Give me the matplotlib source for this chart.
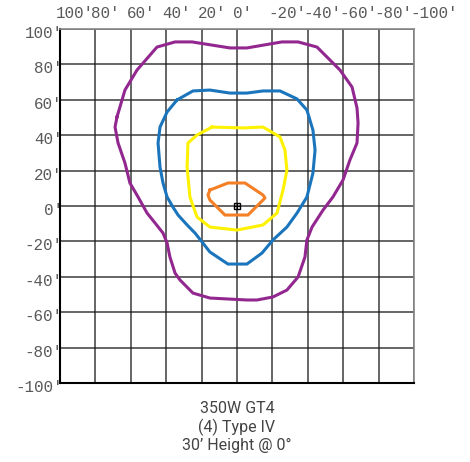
import matplotlib
matplotlib.use('Agg')
import matplotlib.pyplot as plt
import matplotlib.transforms as mtransforms

# Isofootcandle contours (feet), x positive to the left
purple_x = [67.8, 63.3, 56.5, 45.2, 35.0, 25.4, 4.0, -5.6, -25.4, -34.5, -45.2, -58.2, -65.0, -67.8,
            -68.4, -67.8, -63.8, -59.9, -54.2, -48.6, -42.4, -39.5, -38.4, -34.5, -28.2, -20.3, -11.3,
            -5.6, 15.3, 24.9, 32.2, 35.0, 37.9, 39.5, 41.8, 46.3, 50.8, 55.9, 60.5, 63.3, 67.2, 68.9]
purple_y = [50.3, 65.5, 76.8, 89.8, 92.7, 92.7, 89.3, 89.3, 92.7, 92.7, 89.8, 76.8, 67.2, 55.4,
            46.9, 35.6, 26.0, 14.7, 5.1, -2.3, -11.9, -19.2, -28.8, -40.1, -47.5, -51.4, -53.1,
            -53.1, -52.0, -49.2, -41.8, -37.9, -28.8, -20.9, -15.3, -9.6, -4.0, 5.1, 13.0, 24.3, 35.6, 44.6]

blue_x = [33.9, 24.9, 15.3, 4.0, -5.6, -14.7, -24.3, -33.9, -39.5, -42.9, -44.1, -42.9, -39.5, -33.9,
          -28.2, -20.3, -14.1, -5.6, 5.1, 15.3, 23.7, 28.2, 33.3, 36.2, 39.5, 41.8, 43.5, 44.6, 43.5, 39.5]
blue_y = [59.9, 65.0, 65.5, 63.8, 63.8, 65.0, 65.0, 60.5, 54.2, 42.9, 31.6, 18.6, 5.1, -4.0,
          -11.9, -19.2, -26.6, -32.8, -32.8, -26.0, -15.3, -10.7, -5.1, -0.6, 5.1, 13.0, 22.0, 35.6, 44.6, 53.1]

yellow_x = [14.1, -3.4, -14.7, -24.3, -27.1, -28.2, -26.0, -22.6, -14.7, 0.0, 15.3, 22.6, 26.6, 28.2, 27.7, 22.6]
yellow_y = [44.6, 44.1, 44.6, 39.0, 31.6, 20.3, 9.0, -4.0, -10.7, -13.6, -11.9, -6.2, 5.1, 22.0, 35.6, 40.1]

orange_x = [15.3, 5.1, -4.5, -14.7, -15.8, -13.0, -6.2, 6.8, 15.3, 16.4]
orange_y = [9.0, 13.0, 13.0, 6.2, 4.5, 1.7, -5.1, -5.1, 3.4, 6.2]

ticks = [100, 80, 60, 40, 20, 0, -20, -40, -60, -80, -100]
tick_labels = ["%d'" % t for t in ticks]
title_lines = ["350W GT4", "(4) Type IV", "30\u2019 Height @ 0\u00b0"]

fig = plt.figure(figsize=(4.70, 4.62), dpi=100)
ax = fig.add_axes([60 / 470, 79 / 462, 354 / 470, 354 / 462])

ax.set_xlim(100, -100)
ax.set_ylim(-100, 100)

for xs, ys, c in [(purple_x, purple_y, '#92278f'), (blue_x, blue_y, '#1b75bc'),
                  (yellow_x, yellow_y, '#fff200'), (orange_x, orange_y, '#f47f24')]:
    ax.plot(xs + xs[:1], ys + ys[:1], color=c, lw=2.2, solid_joinstyle='round', zorder=3)

# luminaire position
ax.plot([0], [0], marker='s', ms=5, mfc='none', mec='black', mew=1.0, zorder=4)
ax.plot([0], [0], marker='+', ms=5, color='black', mew=0.8, zorder=4)

ax.set_xticks(ticks)
ax.set_yticks(ticks)
ax.grid(True, color='#1a1a1a', lw=1.1, alpha=0.85)
ax.set_axisbelow(True)
ax.tick_params(length=0)
ax.xaxis.tick_top()

mono = dict(family='Liberation Mono', size=11.4, color='#5a5a5a')
ax.set_xticklabels(tick_labels, **mono)
ax.set_yticklabels(tick_labels, **mono)
ax.tick_params(axis='x', pad=6)
ax.tick_params(axis='y', pad=-2)

dx = mtransforms.ScaledTranslation(-4 / 100, 0, fig.dpi_scale_trans)
for lab in ax.get_xticklabels():
    lab.set_horizontalalignment('left')
    lab.set_transform(lab.get_transform() + dx)
dy = mtransforms.ScaledTranslation(0, -3 / 100, fig.dpi_scale_trans)
for lab in ax.get_yticklabels():
    lab.set_transform(lab.get_transform() + dy)

for side in ['left', 'bottom']:
    ax.spines[side].set_color('black')
    ax.spines[side].set_linewidth(1.5)
for side in ['top', 'right']:
    ax.spines[side].set_color('#888888')
    ax.spines[side].set_linewidth(1.2)

fig.text(237 / 470, 1 - 427 / 462, "\n".join(title_lines), ha='center', va='center',
         family='Roboto', fontsize=11.5, color='#444444', linespacing=1.2)

fig.savefig('out.png', dpi=100)
